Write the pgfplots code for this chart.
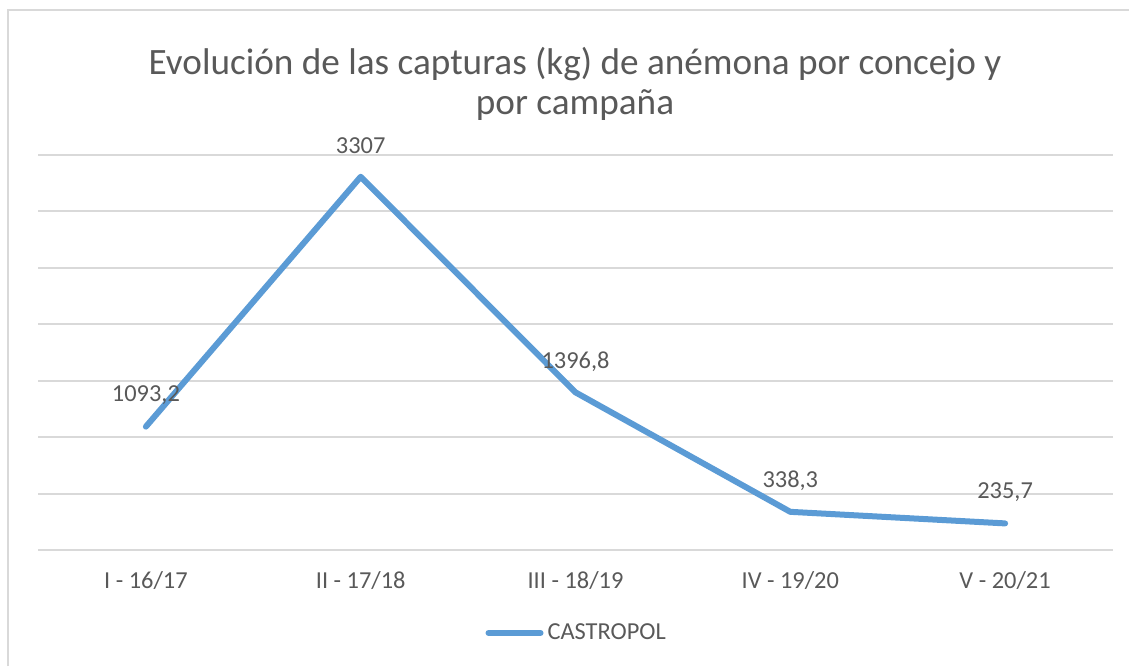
\documentclass[border=0pt]{standalone}
\usepackage{pgfplots}
\pgfplotsset{compat=1.18}
\usepackage{fontspec}
\setmainfont{Carlito}
\definecolor{txt}{HTML}{595959}
\definecolor{gridc}{HTML}{D9D9D9}
\definecolor{linec}{HTML}{5B9BD5}
\begin{document}
\begin{tikzpicture}
\path[use as bounding box] (0,0) rectangle (564.5pt,333pt);
\draw[gridc, line width=0.6pt] (4pt,0) -- (4pt,328pt) -- (564.5pt,328pt);
\node[text=txt, font=\fontsize{18.6pt}{20pt}\selectfont, align=center] at (287.5pt,291pt)
  {Evolución de las capturas (kg) de anémona por concejo y\\por campaña};
\begin{axis}[
  at={(19.25pt,58pt)}, anchor=south west,
  scale only axis, width=537pt, height=197.5pt,
  xmin=-0.5, xmax=4.5, ymin=0, ymax=3500,
  ytick={0,500,...,3500}, yticklabels={},
  ymajorgrids=true, xmajorgrids=false,
  y grid style={draw=gridc, line width=1pt},
  axis line style={draw=none},
  xtick={0,1,2,3,4},
  xticklabels={I - 16/17, II - 17/18, III - 18/19, IV - 19/20, V - 20/21},
  major tick length=0pt,
  tick label style={text=txt, font=\fontsize{12.2pt}{13pt}\selectfont},
  xticklabel style={yshift=-7pt},
  point meta=explicit symbolic,
  nodes near coords,
  nodes near coords style={anchor=center, yshift=15.5pt, text=txt, font=\fontsize{12.2pt}{13pt}\selectfont},
  legend style={at={(0.502,-0.21)}, anchor=center, draw=none, fill=none,
    font=\fontsize{12.2pt}{13pt}\selectfont, text=txt, inner xsep=0pt, inner ysep=0pt},
  legend image code/.code={\draw[linec, line width=3pt, line cap=round] (0pt,0pt) -- (26pt,0pt);},
  legend cell align=left,
]
\addplot[linec, line width=3pt, line cap=round, line join=round, mark=none] table[meta=lab] {
x y lab
0 1093.2 1093,2
1 3307 3307
2 1396.8 1396,8
3 338.3 338,3
4 235.7 235,7
};
\addlegendentry{CASTROPOL}
\end{axis}
\end{tikzpicture}
\end{document}
